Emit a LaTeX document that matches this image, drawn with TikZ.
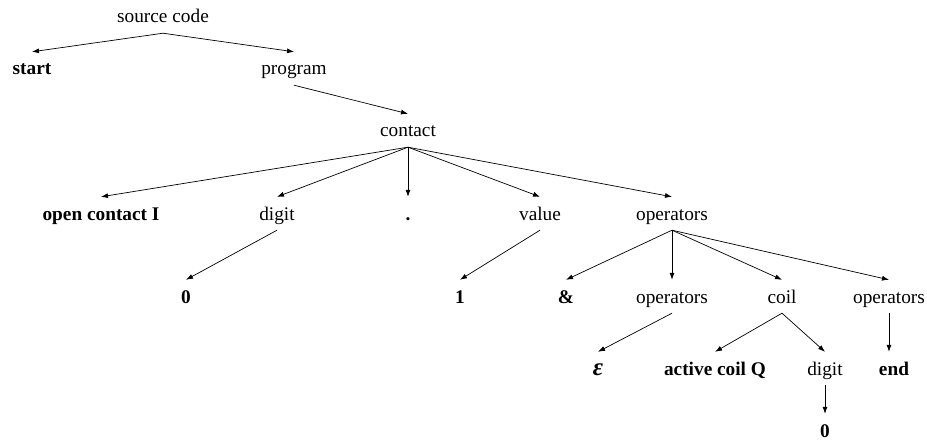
\documentclass[tikz,border=0pt]{standalone}
\usepackage{fontspec}
\setmainfont{Liberation Serif}
\usetikzlibrary{arrows.meta}
\begin{document}
\begin{tikzpicture}[x=1pt,y=-1pt,
  tn/.style={anchor=base, inner xsep=2pt, inner ysep=5pt,
    text height=18pt, text depth=5pt, font=\fontsize{19.3}{23}\selectfont},
  term/.style={tn, font=\fontsize{19.3}{23}\selectfont\bfseries},
  edge/.style={-{Latex[length=7pt,width=5pt]}, line width=0.7pt}]
\useasboundingbox (0,0) rectangle (927,441);

% level 0
\node[tn] (src) at (163,23) {source code};
% level 1
\node[term] (start) at (32,75) {start};
\node[tn] (prog) at (294,75) {program};
% level 2
\node[tn] (contact) at (408,137) {contact};
% level 3
\node[term] (oci) at (101,220) {open contact I};
\node[tn] (dig1) at (277,220) {digit};
\node[term] (dot) at (408,220) {.};
\node[tn] (val) at (540,220) {value};
\node[tn] (ops1) at (672,220) {operators};
% level 4
\node[term] (zero1) at (186,303) {0};
\node[term] (one) at (460,303) {1};
\node[term] (amp) at (566,303) {\&};
\node[tn] (ops2) at (672,303) {operators};
\node[tn] (coil) at (782,303) {coil};
\node[tn] (ops3) at (889,303) {operators};
% level 5
\node[tn, font=\fontsize{25}{28}\selectfont\bfseries\itshape] (eps) at (598,375) {ε};
\node[term] (acq) at (715,375) {active coil Q};
\node[tn] (dig2) at (825,375) {digit};
\node[term] (end) at (894,375) {end};
% level 6
\node[term] (zero2) at (825,437) {0};

% connectors
\draw[edge] (src.south) -- (start.north);
\draw[edge] (src.south) -- (prog.north);
\draw[edge] (prog.south) -- (contact.north);
\foreach \c in {oci,dig1,dot,val,ops1}
  \draw[edge] (contact.south) -- (\c.north);
\draw[edge] (dig1.south) -- (zero1.north);
\draw[edge] (val.south) -- (one.north);
\foreach \c in {amp,ops2,coil,ops3}
  \draw[edge] (ops1.south) -- (\c.north);
\draw[edge] (ops2.south) -- (eps.north);
\draw[edge] (coil.south) -- (acq.north);
\draw[edge] (coil.south) -- (dig2.north);
\draw[edge] (ops3.south) -- (ops3.south |- end.north);
\draw[edge] (dig2.south) -- (zero2.north);
\end{tikzpicture}
\end{document}
